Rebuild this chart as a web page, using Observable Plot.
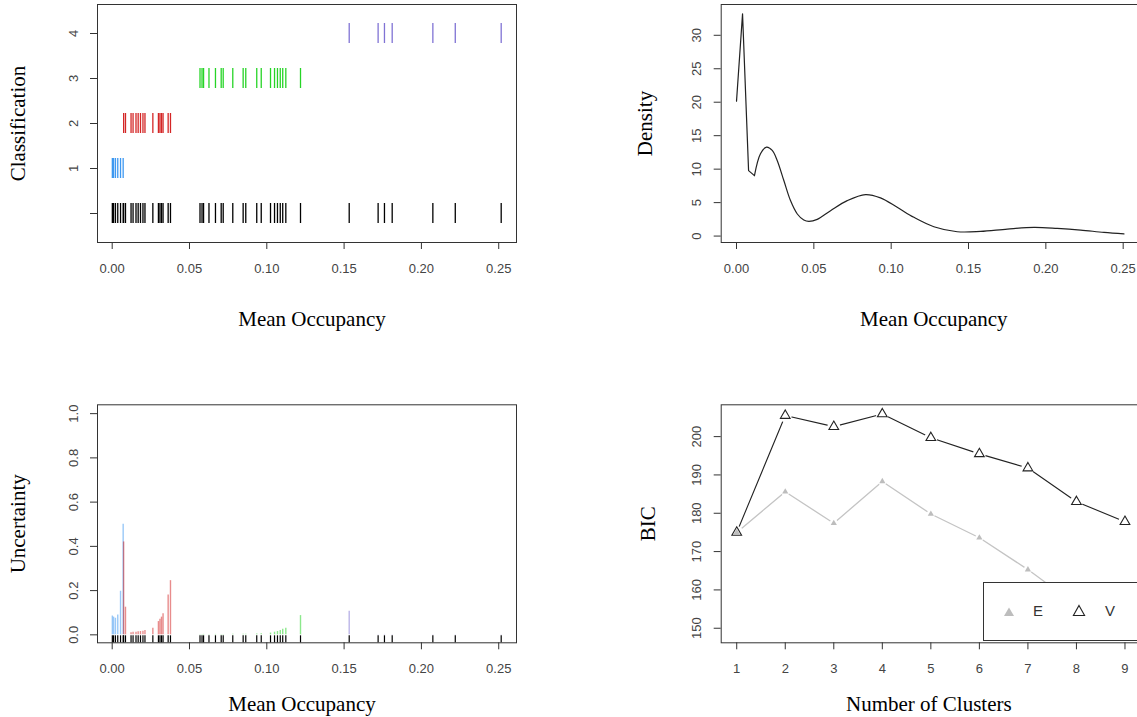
<!DOCTYPE html>
<html><head><meta charset="utf-8">
<script src="https://cdn.jsdelivr.net/npm/d3@7"></script>
<script src="https://cdn.jsdelivr.net/npm/@observablehq/plot@0.6"></script>
<style>
html,body{margin:0;padding:0;background:#fff;overflow:hidden}
#root{position:relative;width:1137px;height:717px;overflow:hidden;background:#fff}
#root svg{position:absolute}
.legend{position:absolute;left:983px;top:582px;width:170px;height:57px;border:1px solid #333;background:#fff;font:15px "Liberation Sans",Arial,sans-serif;color:#333}
.legend span{position:absolute;top:19px;transform:translateX(-50%)}
.legend svg{position:absolute}
</style></head><body><div id="root"></div>
<script>
// ---------- data ----------
const class1X = [0.0001, 0.0009, 0.0021, 0.0036, 0.0054, 0.0071];
const class1U = [0.085, 0.080, 0.075, 0.090, 0.197, 0.500];
const class2X = [0.0074, 0.0086, 0.0122, 0.0135, 0.0154, 0.0168, 0.0183, 0.0199, 0.0212, 0.0263, 0.0299, 0.0309, 0.0319, 0.0329, 0.0362, 0.0377];
const class2U = [0.420, 0.125, 0.010, 0.012, 0.012, 0.014, 0.015, 0.016, 0.020, 0.030, 0.060, 0.070, 0.080, 0.095, 0.180, 0.245];
const class3X = [0.0568, 0.0581, 0.0591, 0.0626, 0.0668, 0.0705, 0.0718, 0.0780, 0.0847, 0.0864, 0.0935, 0.0964, 0.1024, 0.1050, 0.1069, 0.1087, 0.1103, 0.1123, 0.1218];
const class3U = [0.002, 0.002, 0.002, 0.002, 0.002, 0.002, 0.002, 0.003, 0.003, 0.003, 0.004, 0.005, 0.008, 0.012, 0.015, 0.020, 0.025, 0.030, 0.087];
const class4X = [0.1533, 0.1720, 0.1761, 0.1811, 0.2074, 0.2219, 0.2516];
const class4U = [0.107, 0.002, 0.002, 0.002, 0.001, 0.001, 0.001];

const densX = [0.0000, 0.0039, 0.0078, 0.0116, 0.0155, 0.0194, 0.0231, 0.0263, 0.0306, 0.0349, 0.0393, 0.0435, 0.0468, 0.0522, 0.0608, 0.0716, 0.0834, 0.0931, 0.1039, 0.1147, 0.1276, 0.1427, 0.1578, 0.1751, 0.1923, 0.2074, 0.2225, 0.2376, 0.2505];
const densY = [20.15, 33.2, 9.78, 9.03, 12.3, 13.3, 12.8, 11.3, 8.3, 5.3, 3.3, 2.4, 2.2, 2.5, 3.8, 5.3, 6.2, 5.7, 4.3, 2.8, 1.4, 0.65, 0.7, 1.05, 1.3, 1.15, 0.9, 0.55, 0.33];

const clusters = [1, 2, 3, 4, 5, 6, 7, 8, 9];
const bicE = [175.0, 185.6, 177.4, 188.3, 179.8, 173.6, 165.3, 156.0, 148.0];
const bicV = [175.0, 205.5, 202.6, 205.9, 199.7, 195.5, 191.8, 183.0, 177.8];

const xTicks = [0, 0.05, 0.10, 0.15, 0.20, 0.25];
const classTicks = [0, 1, 2, 3, 4];
const uncTicks = [0, 0.2, 0.4, 0.6, 0.8, 1.0];
const densTicks = [0, 5, 10, 15, 20, 25, 30];
const bicTicks = [150, 160, 170, 180, 190, 200];

const classColors = ["#1C86EE", "#CD0000", "#00CD00", "#6A5ACD"];
const classX = [class1X, class2X, class3X, class4X];
const classU = [class1U, class2U, class3U, class4U];
const allX = classX.flat();

// ---------- helpers ----------
const root = document.getElementById("root");
const sansFont = "'Liberation Sans', Arial, sans-serif";
const serifFont = "'Liberation Serif', 'Times New Roman', serif";
function place(svg, left, top) {
  svg.style.left = left + "px";
  svg.style.top = top + "px";
  root.appendChild(svg);
}
function style() {
  return {fontFamily: sansFont, fontSize: "13px", color: "#444", background: "transparent", overflow: "hidden"};
}
function xLabel(t, dy, dx) {
  return Plot.text([t], {text: d => d, frameAnchor: "bottom", dy, dx, textAnchor: "middle", lineAnchor: "middle", fontFamily: serifFont, fontSize: 21, fill: "black"});
}
function yLabel(t, dx) {
  return Plot.text([t], {text: d => d, frameAnchor: "left", dx, rotate: -90, textAnchor: "middle", lineAnchor: "middle", fontFamily: serifFont, fontSize: 21, fill: "black"});
}
const axX = (ticks, fmt) => Plot.axisX({ticks, tickFormat: fmt, tickSize: 7, tickPadding: 14, label: null, stroke: "#333"});
const axY = (ticks, fmt) => Plot.axisY({ticks, tickFormat: fmt, tickSize: 7, tickPadding: 13, tickRotate: -90, label: null, stroke: "#333"});

// ---------- panel 1: classification ----------
{
  const marks = [
    Plot.frame({stroke: "#333"}),
    axX(xTicks, d3.format(".2f")),
    Plot.axisY({tickFormat: d => d === 0 ? "" : String(d), tickSize: 7, tickPadding: 13, tickRotate: -90, label: null, stroke: "#333"}),
    Plot.tickX(allX, {x: d => d, y: () => 0, stroke: "black", strokeWidth: 1.3}),
  ];
  classX.forEach((xs, i) => {
    marks.push(Plot.tickX(xs, {x: d => d, y: () => i + 1, stroke: classColors[i], strokeWidth: 1.3, strokeOpacity: 0.85}));
  });
  marks.push(xLabel("Mean Occupancy", 77, 5), yLabel("Classification", -79));
  const svg = Plot.plot({
    width: 568, height: 358,
    marginLeft: 97, marginRight: 52, marginTop: 4, marginBottom: 116,
    style: style(),
    x: {domain: [-0.0095, 0.2615]},
    y: {type: "band", domain: [4, 3, 2, 1, 0], paddingInner: 0.56, paddingOuter: 0.38},
    marks
  });
  place(svg, 0, 0);
}

// ---------- panel 2: density ----------
{
  const dens = densX.map((x, i) => ({x, y: densY[i]}));
  const svg = Plot.plot({
    width: 572, height: 358,
    marginLeft: 152.7, marginRight: 0, marginTop: 4, marginBottom: 116,
    style: style(),
    x: {domain: [-0.0099, 0.2612]},
    y: {domain: [-0.96, 34.6]},
    marks: [
      Plot.frame({stroke: "#333"}),
      axX(xTicks, d3.format(".2f")),
      axY(densTicks, d => String(d)),
      Plot.line(dens.slice(0, 4), {x: "x", y: "y", stroke: "#222", strokeWidth: 1.2}),
      Plot.line(dens.slice(3), {x: "x", y: "y", stroke: "#222", strokeWidth: 1.2, curve: "catmull-rom"}),
      xLabel("Mean Occupancy", 77, 3),
      yLabel("Density", -76)
    ]
  });
  place(svg, 568, 0);
}

// ---------- panel 3: uncertainty ----------
{
  const marks = [
    Plot.frame({stroke: "#333"}),
    axX(xTicks, d3.format(".2f")),
    axY(uncTicks, d3.format(".1f")),
  ];
  classX.forEach((xs, i) => {
    const rows = xs.map((x, j) => ({x, u: classU[i][j]}));
    marks.push(Plot.ruleX(rows, {x: "x", y: "u", stroke: classColors[i], strokeOpacity: 0.45, strokeWidth: 1.4}));
  });
  marks.push(Plot.ruleX(allX, {x: d => d, insetTop: 231, stroke: "black", strokeWidth: 1.2}));
  marks.push(xLabel("Mean Occupancy", 61, -5), yLabel("Uncertainty", -79));
  const svg = Plot.plot({
    width: 568, height: 317,
    marginLeft: 97, marginRight: 52, marginTop: 4.3, marginBottom: 74.7,
    style: style(),
    x: {domain: [-0.0095, 0.2615]},
    y: {domain: [-0.036, 1.04]},
    marks
  });
  place(svg, 0, 400);
}

// ---------- panel 4: BIC ----------
{
  const E = clusters.map((k, i) => ({k, v: bicE[i]}));
  const V = clusters.map((k, i) => ({k, v: bicV[i]}));
  const svg = Plot.plot({
    width: 572, height: 317,
    marginLeft: 152.7, marginRight: 0, marginTop: 4.3, marginBottom: 74.7,
    style: style(),
    x: {domain: [0.68, 9.32]},
    y: {domain: [146.2, 208.3]},
    marks: [
      Plot.frame({stroke: "#333"}),
      axX(clusters, d => String(d)),
      axY(bicTicks, d => String(d)),
      Plot.line(E, {x: "k", y: "v", stroke: "#c4c4c4", strokeWidth: 1.3}),
      Plot.line(V, {x: "k", y: "v", stroke: "#222", strokeWidth: 1.1}),
      Plot.dot(E, {x: "k", y: "v", r: 4, fill: "white", stroke: null}),
      Plot.dot(V, {x: "k", y: "v", r: 6.5, fill: "white", stroke: null}),
      Plot.dot(E, {x: "k", y: "v", symbol: "triangle", r: 2.3, fill: "#bdbdbd", stroke: null}),
      Plot.dot(V, {x: "k", y: "v", symbol: "triangle", r: 3.6, fill: "none", stroke: "#222", strokeWidth: 1.1}),
      xLabel("Number of Clusters", 61, -2),
      yLabel("BIC", -73)
    ]
  });
  place(svg, 568, 400);
}

// ---------- legend ----------
{
  const lg = document.createElement("div");
  lg.className = "legend";
  lg.innerHTML =
    '<svg width="12" height="12" style="left:19px;top:23px"><polygon points="6,1.5 11,10 1,10" fill="#bdbdbd"/></svg>' +
    '<span style="left:54px">E</span>' +
    '<svg width="14" height="14" style="left:88px;top:21px"><polygon points="7,1.5 12.6,11.5 1.4,11.5" fill="none" stroke="#222" stroke-width="1.1"/></svg>' +
    '<span style="left:126px">V</span>';
  root.appendChild(lg);
}
</script></body></html>
